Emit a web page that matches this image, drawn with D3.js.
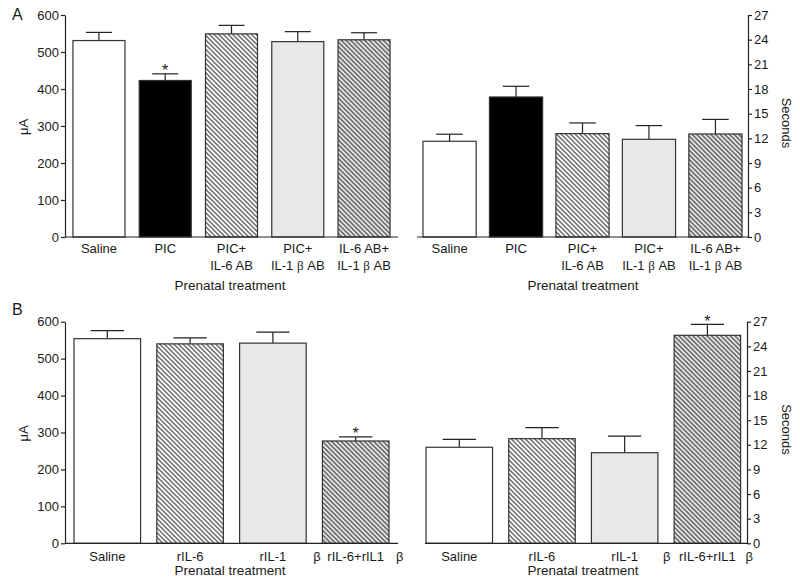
<!DOCTYPE html>
<html><head><meta charset="utf-8">
<script src="https://cdn.jsdelivr.net/npm/d3@7"></script>
<style>
body{margin:0;background:#fff}
text{font-family:"Liberation Sans",Arial,sans-serif;fill:#1a1a1a}
</style>
</head><body><svg id="c" width="800" height="584"></svg>
<script>
// ---- Data ----
const categoriesA = ["Saline","PIC","PIC+IL-6 AB","PIC+IL-1β AB","IL-6 AB+IL-1β AB"];
const tickLabelsA = [["Saline"],["PIC"],["PIC+","IL-6 AB"],["PIC+","IL-1 β AB"],["IL-6 AB+","IL-1 β AB"]];
const fillsA = ["white","black","hatch","gray","hatchgray"];
const currentA = [531,423,549,528,533];
const currentErrA = [22,18,23,27,19];
const currentSigA = [false,true,false,false,false];
const latencyA = [11.64,17.03,12.57,11.88,12.53];
const latencyErrA = [0.86,1.3,1.3,1.67,1.77];
const latencySigA = [false,false,false,false,false];

const categoriesB = ["Saline","rIL-6","rIL-1β","rIL-6+rIL1β"];
const tickLabelsB = [["Saline"],["rIL-6"],["rIL-1"],["rIL-6+rIL1"]];
const tickSuffixB = ["","","β","β"];
const fillsB = ["white","hatch","gray","hatchgray"];
const currentB = [554,540,542,277];
const currentErrB = [22,16,30,11];
const currentSigB = [false,false,false,true];
const latencyB = [11.7,12.75,11.04,25.34];
const latencyErrB = [0.97,1.34,2.03,1.34];
const latencySigB = [false,false,false,true];

const currentTicks = [0,100,200,300,400,500,600];
const secondsTicks = [0,3,6,9,12,15,18,21,24,27];
const xTitle = "Prenatal treatment";
const currentTitle = "μA";
const secondsTitle = "Seconds";

// ---- Drawing ----
const svg = d3.select("#c");
const defs = svg.append("defs");
function hatch(id, bg){
  const p = defs.append("pattern").attr("id",id).attr("patternUnits","userSpaceOnUse")
    .attr("width",3.3).attr("height",10).attr("patternTransform","rotate(-45)");
  p.append("rect").attr("width",3.3).attr("height",10).attr("fill",bg);
  p.append("line").attr("x1",1.65).attr("x2",1.65).attr("y1",0).attr("y2",10)
    .attr("stroke","#222").attr("stroke-width",1.0);
}
hatch("hw","#ffffff");
hatch("hg","#e6e6e6");
const fillMap = {white:"#ffffff", black:"#000000", gray:"#e8e8e8", hatch:"url(#hw)", hatchgray:"url(#hg)"};
const ink = "#222";

function labelText(sel, str){
  const parts = str.split("β");
  parts.forEach((p,i)=>{
    if(p) sel.append("tspan").text(p);
    if(i<parts.length-1) sel.append("tspan").attr("font-family","'Liberation Serif','DejaVu Serif',serif").text("β");
  });
}

function drawPanel(o){
  const g = svg.append("g");
  const x = d3.scaleBand().domain(o.cats).range([o.b0,o.b1])
    .paddingInner(o.pi).paddingOuter(o.po).align(o.align);
  const y = d3.scaleLinear().domain([0,o.max]).range([o.y0,o.y1]);
  const data = o.cats.map((c,i)=>({c, v:o.vals[i], e:o.errs[i], s:o.sig[i], f:o.fills[i]}));
  // error bars
  const eb = g.selectAll(".eb").data(data).enter().append("g");
  eb.append("line").attr("x1",d=>x(d.c)+x.bandwidth()/2).attr("x2",d=>x(d.c)+x.bandwidth()/2)
    .attr("y1",d=>y(d.v)).attr("y2",d=>y(d.v+d.e)).attr("stroke",ink).attr("stroke-width",1.2);
  eb.append("line").attr("x1",d=>x(d.c)+x.bandwidth()/2-x.bandwidth()*0.25)
    .attr("x2",d=>x(d.c)+x.bandwidth()/2+x.bandwidth()*0.25)
    .attr("y1",d=>y(d.v+d.e)).attr("y2",d=>y(d.v+d.e)).attr("stroke",ink).attr("stroke-width",1.2);
  // bars
  g.selectAll(".bar").data(data).enter().append("rect")
    .attr("x",d=>x(d.c)).attr("width",x.bandwidth())
    .attr("y",d=>y(d.v)).attr("height",d=>y(0)-y(d.v))
    .attr("fill",d=>fillMap[d.f]).attr("stroke","#333").attr("stroke-width",1.2);
  // significance
  g.selectAll(".sig").data(data.filter(d=>d.s)).enter().append("text")
    .attr("x",d=>x(d.c)+x.bandwidth()/2).attr("y",d=>y(d.v+d.e)+2.5)
    .attr("text-anchor","middle").attr("font-size",16).text("*");
  // x axis line
  g.append("line").attr("x1",o.a0).attr("x2",o.a1).attr("y1",o.y0).attr("y2",o.y0)
    .attr("stroke",ink).attr("stroke-width",1.2);
  // y axis
  const ax = (o.side==="left"?d3.axisLeft(y):d3.axisRight(y)).tickValues(o.ticks)
    .tickSize(4).tickPadding(2).tickSizeOuter(0);
  const ag = g.append("g").attr("transform",`translate(${o.side==="left"?o.a0:o.a1},0)`).call(ax);
  ag.select(".domain").attr("stroke",ink).attr("stroke-width",1.2);
  ag.selectAll(".tick line").attr("stroke",ink).attr("stroke-width",1.2);
  ag.selectAll(".tick text").attr("font-size",13).attr("fill","#1a1a1a")
    .attr("font-family","'Liberation Sans',Arial,sans-serif");
  // category labels
  data.forEach((d,i)=>{
    o.labels[i].forEach((ln,j)=>{
      const t = g.append("text").attr("x",x(d.c)+x.bandwidth()/2).attr("y",o.lb+j*17)
        .attr("text-anchor","middle").attr("font-size",13);
      labelText(t, ln);
    });
    if(o.suffix && o.suffix[i]){
      g.append("text").attr("x",x(d.c)+x.bandwidth()/2+o.sufOff).attr("y",o.lb)
        .attr("text-anchor","middle").attr("font-size",13)
        .attr("font-family","'Liberation Serif','DejaVu Serif',serif").text(o.suffix[i]);
    }
  });
  // x title
  g.append("text").attr("x",o.tx).attr("y",o.ty).attr("text-anchor","middle")
    .attr("font-size",13.5).text(xTitle);
  // y title
  if(o.side==="left"){
    g.append("text").attr("transform",`translate(28,${(o.y0+o.y1)/2+1}) rotate(-90)`)
      .attr("text-anchor","middle").attr("font-size",13).text(currentTitle);
  } else {
    g.append("text").attr("transform",`translate(782,${(o.y0+o.y1)/2-3}) rotate(90)`)
      .attr("text-anchor","middle").attr("font-size",13).text(secondsTitle);
  }
}

drawPanel({cats:categoriesA, vals:currentA, errs:currentErrA, sig:currentSigA, fills:fillsA,
  labels:tickLabelsA, max:600, ticks:currentTicks, y0:237, y1:15, a0:65, a1:398,
  b0:65, b1:398, pi:0.215, po:0.12, align:0.5, side:"left", lb:253, tx:230, ty:290});
drawPanel({cats:categoriesA, vals:latencyA, errs:latencyErrA, sig:latencySigA, fills:fillsA,
  labels:tickLabelsA, max:27, ticks:secondsTicks, y0:237, y1:15, a0:417, a1:748,
  b0:417, b1:748, pi:0.2, po:0.09, align:0.5, side:"right", lb:253, tx:583, ty:290});
drawPanel({cats:categoriesB, vals:currentB, errs:currentErrB, sig:currentSigB, fills:fillsB,
  labels:tickLabelsB, suffix:tickSuffixB, sufOff:44, max:600, ticks:currentTicks, y0:543.3, y1:321.7,
  a0:65, a1:398, b0:65, b1:398, pi:0.196, po:0.109, align:0.5, side:"left", lb:561, tx:230, ty:575});
drawPanel({cats:categoriesB, vals:latencyB, errs:latencyErrB, sig:latencySigB, fills:fillsB,
  labels:tickLabelsB, suffix:tickSuffixB, sufOff:42, max:27, ticks:secondsTicks, y0:543.3, y1:321.7,
  a0:425, a1:747, b0:425, b1:747, pi:0.196, po:0.045, align:0.14, side:"right", lb:561, tx:583, ty:575});

svg.append("text").attr("x",12).attr("y",20).attr("font-size",16).text("A");
svg.append("text").attr("x",12).attr("y",315).attr("font-size",16).text("B");
</script>
</body></html>
